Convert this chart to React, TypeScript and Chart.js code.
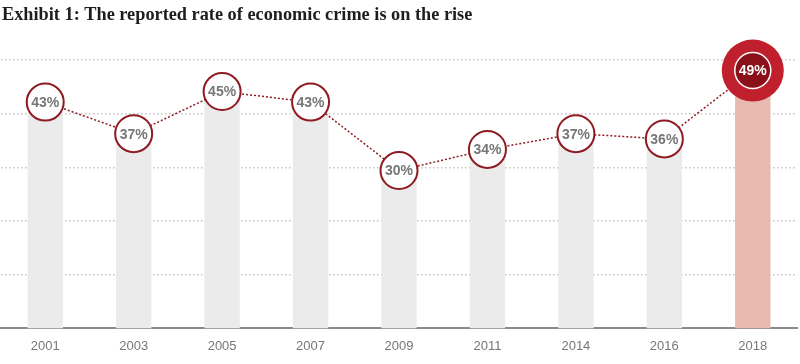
import React, { useEffect, useRef } from "react";
import { Chart, registerables } from "chart.js";

Chart.register(...registerables);

const TITLE = "Exhibit 1: The reported rate of economic crime is on the rise";
const YEARS = ["2001", "2003", "2005", "2007", "2009", "2011", "2014", "2016", "2018"];
const RATES = [43, 37, 45, 43, 30, 34, 37, 36, 49];
const GRID_MAX = 50;
const GRID_STEP = 10;
const DATA_MAX = 51;

const BAR_GREY = "#ebebeb";
const BAR_HIGHLIGHT = "#e8b9ae";
const DARK_RED = "#8e1b22";
const BRIGHT_RED = "#c0202e";
const INNER_RED = "#8a1019";

export default function App() {
  const ref = useRef<HTMLCanvasElement | null>(null);

  useEffect(() => {
    if (!ref.current) return;
    const last = RATES.length - 1;

    const overlay = {
      id: "overlay",
      afterDatasetsDraw(chart: any) {
        const ctx = chart.ctx;
        const meta = chart.getDatasetMeta(1);
        ctx.save();
        meta.data.forEach((pt: any, i: number) => {
          const { x, y } = pt.getProps(["x", "y"], true);
          const label = RATES[i] + "%";
          if (i === last) {
            ctx.beginPath();
            ctx.arc(x, y, 31, 0, Math.PI * 2);
            ctx.fillStyle = BRIGHT_RED;
            ctx.fill();
            ctx.beginPath();
            ctx.arc(x, y, 18, 0, Math.PI * 2);
            ctx.fillStyle = INNER_RED;
            ctx.fill();
            ctx.lineWidth = 1.5;
            ctx.strokeStyle = "#ffffff";
            ctx.stroke();
            ctx.fillStyle = "#ffffff";
            ctx.font = "bold 14px 'Liberation Sans', Arial, sans-serif";
          } else {
            ctx.beginPath();
            ctx.arc(x, y, 18.5, 0, Math.PI * 2);
            ctx.fillStyle = "#ffffff";
            ctx.fill();
            ctx.lineWidth = 2;
            ctx.strokeStyle = DARK_RED;
            ctx.stroke();
            ctx.fillStyle = "#777777";
            ctx.font = "bold 14px 'Liberation Sans', Arial, sans-serif";
          }
          ctx.textAlign = "center";
          ctx.textBaseline = "middle";
          ctx.fillText(label, x, y + 1);
        });
        // title
        ctx.fillStyle = "#1e1e1e";
        ctx.font = "bold 18.3px 'Liberation Serif', serif";
        ctx.textAlign = "left";
        ctx.textBaseline = "alphabetic";
        ctx.fillText(TITLE, 2, 20);
        ctx.restore();
      },
    };

    const chart = new Chart(ref.current, {
      type: "bar",
      data: {
        labels: YEARS,
        datasets: [
          {
            type: "bar",
            data: RATES,
            backgroundColor: RATES.map((_, i) => (i === last ? BAR_HIGHLIGHT : BAR_GREY)),
            barPercentage: 0.8,
            categoryPercentage: 0.5,
            yAxisID: "y",
            order: 2,
          },
          {
            type: "line",
            data: RATES,
            borderColor: DARK_RED,
            borderWidth: 1.5,
            borderDash: [2, 2],
            pointRadius: 0,
            fill: false,
            yAxisID: "y",
            order: 1,
            clip: false,
          } as any,
        ],
      },
      options: {
        animation: false,
        responsive: false,
        maintainAspectRatio: false,
        layout: { padding: { top: 60, left: 1, right: 3, bottom: 0 } },
        plugins: { legend: { display: false }, tooltip: { enabled: false }, title: { display: false } },
        scales: {
          x: {
            grid: { display: false, drawTicks: false },
            border: { display: true, color: "#8a8a8a", width: 2 },
            ticks: {
              color: "#777777",
              font: { family: "'Liberation Sans', Arial, sans-serif", size: 13 },
              padding: 10,
            },
          },
          y: {
            display: false,
            min: 0,
            max: DATA_MAX,
          },
          yg: {
            position: "left",
            min: 0,
            max: GRID_MAX,
            ticks: { display: false, stepSize: GRID_STEP },
            border: { display: false, dash: [1.5, 2.5] },
            grid: {
              drawTicks: false,
              color: (c: any) => (c.tick && c.tick.value === 0 ? "rgba(0,0,0,0)" : "#c4c4c4"),
              lineWidth: 1.5,
            } as any,
          } as any,
        },
      },
      plugins: [overlay],
    });
    return () => chart.destroy();
  }, []);

  return (
    <div style={{ position: "fixed", left: 0, top: 0, width: 800, height: 364, background: "#fff" }}>
      <canvas ref={ref} width={800} height={364} />
    </div>
  );
}
